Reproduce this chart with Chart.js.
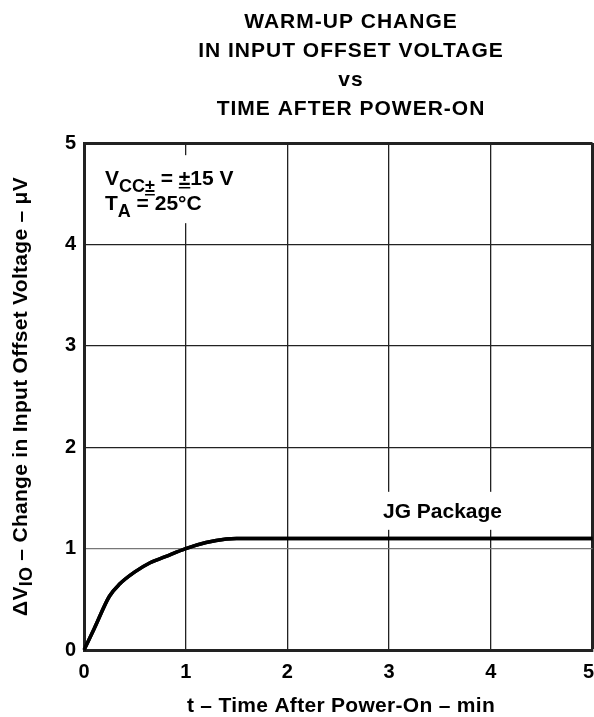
<!DOCTYPE html>
<html>
<head>
<meta charset="utf-8">
<script src="https://cdn.jsdelivr.net/npm/chart.js@4"></script>
<style>
  html, body { margin: 0; padding: 0; background: #fff; }
  #wrap { width: 594px; height: 717px; }
</style>
</head>
<body>
<div id="wrap"><canvas id="chart" width="594" height="717"></canvas></div>
<script>
// values
var timeMin = [0, 0.1, 0.25, 0.35, 0.5, 0.65, 0.8, 1.0, 1.2, 1.4, 1.5, 2, 3, 4, 5];
var deltaVio = [0, 0.21, 0.53, 0.65, 0.77, 0.86, 0.92, 1.0, 1.06, 1.095, 1.1, 1.1, 1.1, 1.1, 1.1];
var xTicks = [0, 1, 2, 3, 4, 5];
var yTicks = [0, 1, 2, 3, 4, 5];
var titleLines = ['WARM-UP CHANGE', 'IN INPUT OFFSET VOLTAGE', 'vs', 'TIME AFTER POWER-ON'];

var FONT = '"Liberation Sans", Arial, sans-serif';
var TICK_PAD = 10;

var points = timeMin.map(function(t, i) { return { x: t, y: deltaVio[i] }; });

// draws titles, axis titles and the notes inside the plot
var textPlugin = {
    id: 'texts',
    afterDraw: function(chart) {
        var ctx = chart.ctx;
        var area = chart.chartArea;
        var xs = chart.scales.x, ys = chart.scales.y;
        ctx.save();
        ctx.fillStyle = '#000';
        ctx.textAlign = 'center';
        ctx.textBaseline = 'alphabetic';
        ctx.font = 'bold 21px ' + FONT;
        ctx.letterSpacing = '1px';
        var lineY = [28, 57, 86, 115];
        titleLines.forEach(function(s, i) { ctx.fillText(s, 351, lineY[i]); });

        // x axis title
        ctx.letterSpacing = '0.3px';
        ctx.fillText('t \u2013 Time After Power-On \u2013 min', 341, 712);
        ctx.letterSpacing = '0px';

        // last x tick label is pulled inside the canvas, like the reference
        ctx.font = 'bold 20px ' + FONT;
        ctx.textAlign = 'right';
        ctx.textBaseline = 'middle';
        ctx.fillText(String(xTicks[xTicks.length - 1]), 594, xs.top + TICK_PAD + 12);

        // y axis title with subscript, stretched to the reference length
        ctx.save();
        ctx.textBaseline = 'alphabetic';
        ctx.translate(27, (area.top + area.bottom) / 2);
        ctx.rotate(-Math.PI / 2);
        ctx.textAlign = 'left';
        var p1 = '\u0394V', sub = 'IO', p2 = ' \u2013 Change in Input Offset Voltage \u2013 \u03bcV';
        ctx.font = 'bold 21px ' + FONT;
        var w1 = ctx.measureText(p1).width, w3 = ctx.measureText(p2).width;
        ctx.font = 'bold 18px ' + FONT;
        var w2 = ctx.measureText(sub).width;
        var n = p1.length + sub.length + p2.length;
        var ls = Math.max(0, (439 - (w1 + w2 + w3)) / n);
        ctx.letterSpacing = ls + 'px';
        ctx.font = 'bold 21px ' + FONT;
        w1 = ctx.measureText(p1).width; w3 = ctx.measureText(p2).width;
        ctx.font = 'bold 18px ' + FONT;
        w2 = ctx.measureText(sub).width;
        var x0 = -(w1 + w2 + w3) / 2;
        ctx.font = 'bold 21px ' + FONT;
        ctx.fillText(p1, x0, 0);
        ctx.font = 'bold 18px ' + FONT;
        ctx.fillText(sub, x0 + w1, 5);
        ctx.font = 'bold 21px ' + FONT;
        ctx.fillText(p2, x0 + w1 + w2, 0);
        ctx.restore();
        ctx.letterSpacing = '0px';
        ctx.textBaseline = 'alphabetic';

        // note boxes (white background over grid)
        ctx.fillStyle = '#fff';
        ctx.fillRect(xs.getPixelForValue(0.16), ys.getPixelForValue(4.88), 150, 68);
        ctx.fillRect(xs.getPixelForValue(2.86), ys.getPixelForValue(1.56), 140, 38);

        ctx.fillStyle = '#000';
        ctx.textAlign = 'left';
        var tx = xs.getPixelForValue(0.206);
        var t1 = ys.getPixelForValue(4.586);
        ctx.font = 'bold 21px ' + FONT;
        ctx.fillText('V', tx, t1);
        var wv = ctx.measureText('V').width;
        ctx.font = 'bold 18px ' + FONT;
        ctx.fillText('CC\u00b1', tx + wv, t1 + 7);
        var wcc = ctx.measureText('CC').width, wpm = ctx.measureText('\u00b1').width;
        ctx.fillRect(tx + wv + wcc, t1 + 9, wpm, 1.5);
        var wsub = ctx.measureText('CC\u00b1').width;
        ctx.font = 'bold 21px ' + FONT;
        ctx.fillText(' = \u00b115 V', tx + wv + wsub, t1);
        var weq = ctx.measureText(' = ').width;
        var wpm2 = ctx.measureText('\u00b1').width;
        ctx.fillRect(tx + wv + wsub + weq, t1 + 2, wpm2, 1.5);

        var t2 = ys.getPixelForValue(4.34);
        ctx.fillText('T', tx, t2);
        var wt = ctx.measureText('T').width;
        ctx.font = 'bold 18px ' + FONT;
        ctx.fillText('A', tx + wt, t2 + 7);
        var wa = ctx.measureText('A').width;
        ctx.font = 'bold 21px ' + FONT;
        ctx.fillText(' = 25\u00b0C', tx + wt + wa, t2);

        ctx.textAlign = 'center';
        ctx.fillText('JG Package', xs.getPixelForValue(3.525), ys.getPixelForValue(1.30));
        ctx.restore();
    }
};

// redraw the curve on top of the note boxes
var curveOnTop = {
    id: 'curveOnTop',
    afterDraw: function(chart) {
        chart.getDatasetMeta(0).controller.draw();
    }
};

var ctx = document.getElementById('chart').getContext('2d');
var chart = new Chart(ctx, {
    type: 'line',
    data: {
        datasets: [{
            data: points,
            borderColor: '#000',
            borderWidth: 3.5,
            pointRadius: 0,
            cubicInterpolationMode: 'monotone',
            fill: false
        }]
    },
    options: {
        responsive: false,
        animation: false,
        layout: { padding: { top: 143, right: 1.5, left: 0, bottom: 0 } },
        plugins: {
            legend: { display: false },
            tooltip: { enabled: false }
        },
        scales: {
            x: {
                type: 'linear',
                min: 0, max: 5,
                afterBuildTicks: function(scale) {
                    scale.ticks = xTicks.map(function(v) { return { value: v }; });
                },
                afterFit: function(scale) {
                    scale.height = 67;
                    scale.paddingLeft = 0;
                    scale.paddingRight = 0;
                },
                grid: {
                    color: '#222',
                    lineWidth: function(c) { return c.tick && c.tick.value === 5 ? 3 : 1.3; },
                    drawTicks: false
                },
                border: { color: '#222', width: 3 },
                ticks: {
                    color: '#000',
                    padding: TICK_PAD,
                    maxRotation: 0,
                    font: { family: FONT, size: 20, weight: 'bold' },
                    callback: function(v) { return v === xTicks[xTicks.length - 1] ? '' : v; }
                }
            },
            y: {
                type: 'linear',
                min: 0, max: 5,
                afterBuildTicks: function(scale) {
                    scale.ticks = yTicks.map(function(v) { return { value: v }; });
                },
                afterFit: function(scale) { scale.width = 84; },
                grid: {
                    color: function(c) { return c.tick && c.tick.value === 1 ? '#777' : '#222'; },
                    lineWidth: function(c) { return c.tick && c.tick.value === 5 ? 3 : 1.3; },
                    drawTicks: false
                },
                border: { color: '#222', width: 3 },
                ticks: {
                    color: '#000',
                    padding: 8,
                    font: { family: FONT, size: 20, weight: 'bold' }
                }
            }
        }
    },
    plugins: [textPlugin, curveOnTop]
});
</script>
</body>
</html>
